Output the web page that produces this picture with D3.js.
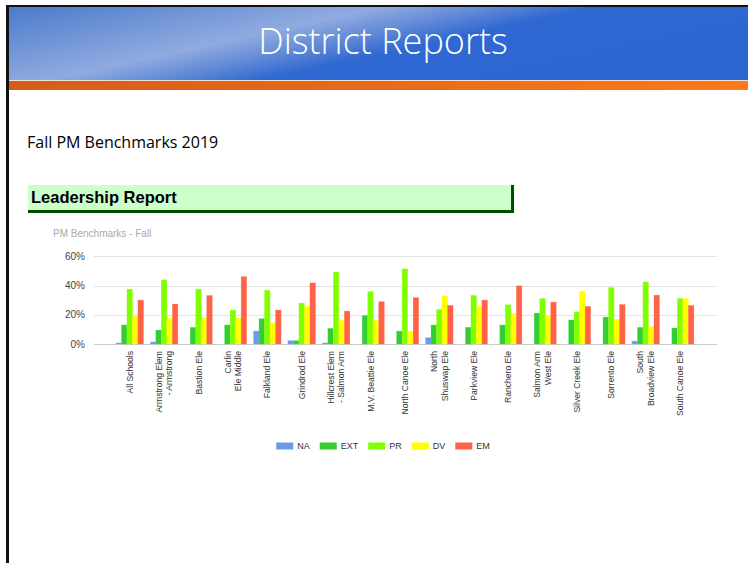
<!DOCTYPE html>
<html>
<head>
<meta charset="utf-8">
<script src="https://cdn.jsdelivr.net/npm/d3@7"></script>
<style>
  body { margin: 0; background: #fff; }
  svg { display: block; }
</style>
</head>
<body>
<div id="chart"></div>
<script>
// values (percent)
var categories = ["All Schools", "Armstrong Elem\n- Armstrong", "Bastion Ele", "Carlin\nEle Middle",
  "Falkland Ele", "Grindrod Ele", "Hillcrest Elem\n- Salmon Arm", "M.V. Beattie Ele", "North Canoe Ele",
  "North\nShuswap Ele", "Parkview Ele", "Ranchero Ele", "Salmon Arm\nWest Ele", "Silver Creek Ele",
  "Sorrento Ele", "South\nBroadview Ele", "South Canoe Ele"];
var seriesNames = ["NA", "EXT", "PR", "DV", "EM"];
var NA  = [0.7, 1.4, 0, 0, 8.9, 2.3, 0.7, 0, 0, 4.3, 0, 0, 0, 0, 0, 2, 0];
var EXT = [13, 9.5, 11.4, 13, 17.3, 2.3, 10.7, 19.5, 8.8, 13, 11.4, 13, 21.1, 16.4, 18.4, 11.4, 10.9];
var PR  = [37.5, 43.9, 37.5, 23.2, 36.8, 28, 49.1, 35.9, 51.4, 23.6, 33.2, 26.8, 31.1, 22, 38.6, 42.5, 31.1];
var DV  = [19, 17.7, 18.2, 17.7, 14.5, 25.7, 16.1, 16.1, 8.8, 32.7, 25.7, 20.9, 19.5, 36.1, 16.8, 11.8, 31.1];
var EM  = [30, 27.3, 33.2, 46.1, 23.2, 41.8, 22.5, 28.9, 31.7, 26.4, 30, 39.8, 28.6, 25.7, 27, 33.4, 26.4];
var yTicks = [0, 20, 40, 60];
var colors = ["#6a9be8", "#33cc33", "#80ff00", "#ffff00", "#ff6347"];

var seriesValues = [NA, EXT, PR, DV, EM];
var rows = categories.map(function (c, i) {
  var r = { name: c };
  seriesNames.forEach(function (s, j) { r[s] = seriesValues[j][i]; });
  return r;
});

var W = 748, H = 563;
var svg = d3.select("#chart").append("svg")
    .attr("width", W)
    .attr("height", H)
    .style("font-family", "'Liberation Sans', Arial, sans-serif");

var defs = svg.append("defs");
var hg = defs.append("linearGradient").attr("id", "hdr")
    .attr("x1", 0).attr("y1", 0).attr("x2", 1).attr("y2", 0.45);
[[0, "#4a7bcc"], [0.3, "#7d9dda"], [0.42, "#90abe0"], [0.55, "#5f88d6"], [0.66, "#2f68d1"], [1, "#2c66d3"]]
  .forEach(function (s) { hg.append("stop").attr("offset", s[0]).attr("stop-color", s[1]); });
var og = defs.append("linearGradient").attr("id", "org")
    .attr("x1", 0).attr("y1", 0).attr("x2", 1).attr("y2", 0);
og.append("stop").attr("offset", 0).attr("stop-color", "#d45c1c");
og.append("stop").attr("offset", 1).attr("stop-color", "#fb7a1a");

// slide frame + header
svg.append("rect").attr("x", 6).attr("y", 5).attr("width", W - 6).attr("height", 2).attr("fill", "#111");
svg.append("rect").attr("x", 8).attr("y", 7).attr("width", W - 8).attr("height", 73).attr("fill", "url(#hdr)");
svg.append("rect").attr("x", 8).attr("y", 80).attr("width", W - 8).attr("height", 1).attr("fill", "#f3e0d0");
svg.append("rect").attr("x", 8).attr("y", 81).attr("width", W - 8).attr("height", 9).attr("fill", "url(#org)");
svg.append("rect").attr("x", 6).attr("y", 5).attr("width", 3).attr("height", H - 5).attr("fill", "#111");

svg.append("text")
    .attr("x", 383).attr("y", 54)
    .attr("text-anchor", "middle")
    .attr("fill", "#fff")
    .style("font-family", "'Open Sans', sans-serif")
    .style("font-weight", 300)
    .style("font-size", "36px")
    .text("District Reports");

svg.append("text")
    .attr("x", 27).attr("y", 148)
    .attr("fill", "#000")
    .style("font-family", "'Open Sans', sans-serif")
    .style("font-size", "16px")
    .text("Fall PM Benchmarks 2019");

// Leadership Report banner
svg.append("rect").attr("x", 28).attr("y", 185).attr("width", 484).attr("height", 26).attr("fill", "#ccffcc");
svg.append("rect").attr("x", 28).attr("y", 210).attr("width", 486).attr("height", 3).attr("fill", "#004d00");
svg.append("rect").attr("x", 511).attr("y", 185).attr("width", 3).attr("height", 28).attr("fill", "#004d00");
svg.append("text")
    .attr("x", 31).attr("y", 203)
    .attr("fill", "#000")
    .style("font-weight", "bold")
    .style("font-size", "16.5px")
    .text("Leadership Report");

svg.append("text")
    .attr("x", 53).attr("y", 237)
    .attr("fill", "#aaa")
    .style("font-size", "10px")
    .text("PM Benchmarks - Fall");

// chart
var gridX0 = 94, gridX1 = 717;
var x = d3.scaleBand().domain(categories).range([112.5, 697.3]).paddingInner(0.2).paddingOuter(0.1);
var xs = d3.scaleBand().domain(seriesNames).range([0, x.bandwidth()]);
var y = d3.scaleLinear().domain([0, 60]).range([344, 256.3]);

var grid = svg.append("g");
grid.selectAll("line").data(yTicks).enter().append("line")
    .attr("x1", gridX0).attr("x2", gridX1)
    .attr("y1", function (d) { return Math.round(y(d)) + 0.5; })
    .attr("y2", function (d) { return Math.round(y(d)) + 0.5; })
    .attr("stroke", function (d) { return d === 0 ? "#cccccc" : "#e3e3e3"; })
    .attr("stroke-width", 1);

var yAxis = d3.axisLeft(y).tickValues(yTicks).tickFormat(function (d) { return d + "%"; }).tickSize(0).tickPadding(0);
svg.append("g")
    .attr("transform", "translate(85,0)")
    .call(yAxis)
    .call(function (g) { g.select(".domain").remove(); })
    .selectAll("text")
    .attr("fill", "#444")
    .style("font-size", "10px")
    .style("font-family", "'Liberation Sans', Arial, sans-serif");

var groups = svg.append("g").selectAll("g").data(rows).enter().append("g")
    .attr("transform", function (d) { return "translate(" + x(d.name) + ",0)"; });
groups.selectAll("rect")
    .data(function (d) { return seriesNames.map(function (s, j) { return { key: s, value: d[s], color: colors[j] }; }); })
    .enter().append("rect")
    .attr("x", function (d) { return xs(d.key); })
    .attr("width", xs.bandwidth())
    .attr("y", function (d) { return y(d.value); })
    .attr("height", function (d) { return y(0) - y(d.value); })
    .attr("fill", function (d) { return d.color; })
    .attr("stroke", function (d) { return d3.color(d.color).brighter(0.4); })
    .attr("stroke-opacity", 0.5)
    .attr("stroke-width", 0.6);

// x labels, rotated, lines side by side
var lab = svg.append("g").selectAll("g").data(categories).enter().append("g")
    .attr("transform", function (d) { return "translate(" + (x(d) + x.bandwidth() / 2) + ",351)"; });
lab.each(function (d) {
  var lines = d.split("\n");
  var n = lines.length;
  d3.select(this).selectAll("text").data(lines).enter().append("text")
      .attr("transform", function (t, i) { return "translate(" + ((i - (n - 1) / 2) * 10.5) + ",0) rotate(-90)"; })
      .attr("text-anchor", "end")
      .attr("dy", "0.35em")
      .attr("fill", "#333")
      .style("font-size", "8.6px")
      .text(function (t) { return t; });
});

// legend
var legend = svg.append("g").attr("transform", "translate(0,446)");
var items = legend.selectAll("g").data(seriesNames).enter().append("g");
items.append("rect").attr("y", -3.5).attr("width", 17).attr("height", 7)
    .attr("fill", function (d, i) { return colors[i]; });
items.append("text").attr("x", 21).attr("dy", "0.35em")
    .attr("fill", "#333").style("font-size", "9px")
    .text(function (d) { return d; });
var pos = 0, offs = [];
items.each(function () {
  offs.push(pos);
  pos += 21 + this.querySelector("text").getComputedTextLength() + 10;
});
var total = pos - 10, start = 383 - total / 2;
items.attr("transform", function (d, i) { return "translate(" + (start + offs[i]) + ",0)"; });
</script>
</body>
</html>
